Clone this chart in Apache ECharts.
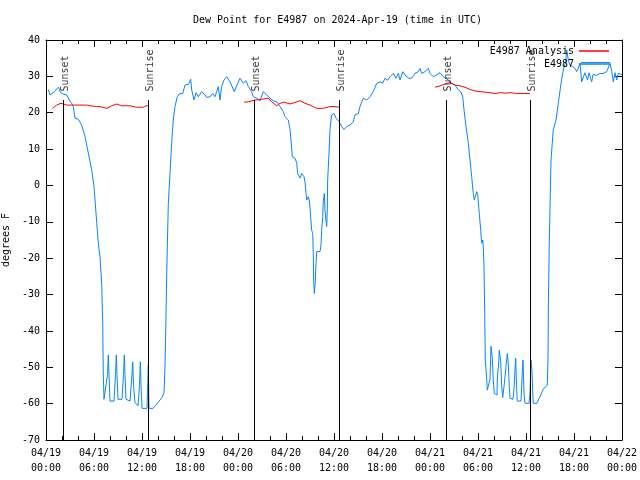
<!DOCTYPE html>
<html><head><meta charset="utf-8">
<script src="https://cdn.jsdelivr.net/npm/echarts@6/dist/echarts.min.js"></script>
<style>html,body{margin:0;padding:0;background:#fff}#c{width:640px;height:480px}</style>
</head><body><div id="c"></div>
<script>
// x values: hours since 2024-04-19 00:00 UTC
const xTickLabels = ['04/19\n00:00','04/19\n06:00','04/19\n12:00','04/19\n18:00','04/20\n00:00','04/20\n06:00','04/20\n12:00','04/20\n18:00','04/21\n00:00','04/21\n06:00','04/21\n12:00','04/21\n18:00','04/22\n00:00'];

const obsHours = [0.29,0.5,0.91,1.125,1.54,1.84,2.16,2.59,2.91,3.21,3.41,3.63,4.04,4.46,4.88,5.29,5.71,6.0,6.25,6.54,6.75,6.96,7.09,7.16,7.25,7.5,7.69,7.79,7.875,8.0,8.5,8.69,8.79,8.875,9.0,9.5,9.69,9.79,9.875,10.0,10.5,10.75,10.84,10.94,11.125,11.5,11.69,11.79,11.875,12.0,12.625,12.79,12.875,13.375,13.625,14.0,14.25,14.5,14.75,14.875,15.0,15.09,15.29,15.5,15.71,15.91,16.125,16.41,16.66,17.09,17.375,17.59,17.81,18.09,18.21,18.5,18.75,19.04,19.46,19.875,20.09,20.5,20.84,21.125,21.54,21.75,21.96,22.25,22.59,23.0,23.54,23.96,24.25,24.66,25.0,25.29,25.71,25.91,26.34,26.75,27.16,27.59,28.0,28.41,28.84,29.25,29.66,29.875,30.29,30.5,30.625,30.79,31.125,31.34,31.46,31.75,31.96,32.25,32.375,32.5,32.59,32.79,32.91,33.0,33.09,33.21,33.34,33.41,33.46,33.54,33.66,33.75,33.84,34.25,34.375,34.46,34.59,34.66,34.79,34.875,34.96,35.09,35.16,35.21,35.375,35.5,35.625,35.71,36.0,36.25,36.41,36.66,36.96,37.25,37.59,38.0,38.41,38.625,39.04,39.25,39.66,40.09,40.5,40.91,41.34,41.75,42.09,42.375,42.69,43.0,43.41,43.75,44.04,44.25,44.59,44.875,45.29,45.71,46.125,46.54,46.75,46.96,47.375,47.79,48.0,48.41,48.84,49.25,49.66,49.875,50.29,50.71,51.125,51.54,51.84,52.09,52.25,52.5,52.79,53.0,53.21,53.41,53.54,53.75,53.84,53.96,54.16,54.34,54.46,54.59,54.66,54.75,54.84,54.91,54.94,55.09,55.16,55.375,55.5,55.625,55.79,55.91,56.04,56.375,56.41,56.59,56.66,56.84,56.96,57.09,57.25,57.29,57.46,57.59,57.66,57.79,57.91,58.0,58.375,58.5,58.625,58.71,58.84,58.91,59.375,59.54,59.625,59.75,59.875,60.375,60.5,60.625,60.75,60.84,60.91,61.375,61.54,61.75,61.96,62.16,62.375,62.66,62.75,62.8,62.91,63.125,63.41,63.75,64.04,64.375,64.66,64.96,65.09,65.29,65.5,65.84,66.125,66.34,66.54,66.75,66.96,67.16,67.375,67.69,67.875,68.21,68.375,68.84,69.25,69.625,70.09,70.5,70.71,70.91,71.125,71.34,71.54,71.75,72.0];
const obsDew = [26.4,24.9,25.5,25.0,27.0,25.5,25.1,24.9,23.5,22.6,21.7,18.5,18.2,16.6,13.4,8.9,4.3,-0.3,-7.6,-15.9,-19.6,-26.9,-37.9,-51.6,-58.8,-58.8,-52,-46.6,-52,-59.3,-59.3,-52,-46.6,-52,-58.8,-58.8,-52,-46.6,-52,-58.8,-59.3,-52,-48.5,-55,-59.7,-60.6,-55,-48.5,-55,-61.3,-61.3,-49.4,-61.3,-61.3,-60.6,-59.7,-59,-58.3,-57.0,-49.4,-36.1,-24.2,-4.9,3.3,11.6,18,21.7,24.4,25.2,25.3,27.6,28.1,27.8,29.2,26.3,23.5,25.5,24.4,25.8,24.9,24.2,24.4,25.3,24.4,27.2,23.5,27.2,29.0,29.9,28.5,25.8,28.1,29.5,28.1,28.8,27.2,25.8,24.4,24.0,23.3,25.8,24.9,24.0,23.3,23.0,21.7,20.3,18.9,18.0,15.3,12.5,7.9,7.5,6.1,3.3,2.0,3.3,2.4,1.0,-2.2,-4.0,-3.1,-4.0,-6.3,-9.0,-12.3,-13.2,-18.7,-26,-29.7,-26.4,-21.4,-18.2,-18.2,-16.4,-12.3,-8.6,-4.5,-2.2,-6.8,-9.0,-11.3,-6.8,1.5,8.9,15.3,18,19.4,19.8,18.5,18.9,17.5,16.2,15.4,16.2,16.6,17.5,19.4,19.8,21.7,24.0,23.5,24.4,25.8,28.1,28.5,28.1,29.5,28.9,29.9,30.8,29.5,30.8,29.0,31.3,30.4,29.5,29.5,30.8,31.3,32.2,30.8,31.3,32.2,30.8,29.9,30.4,31.0,29.9,29.5,29.0,28.1,27.6,26.3,25.8,24.4,20.8,16.2,11.6,7.0,2.4,-2.2,-4.0,-4.5,-1.7,-2.5,-7.7,-12.3,-15.9,-15.0,-16.8,-22.3,-35.2,-48,-47.8,-53.3,-56.3,-56.3,-53.3,-44.2,-47.5,-53.5,-57.2,-57.6,-53.5,-48.5,-45.3,-48.5,-55.3,-58.3,-58.3,-54.5,-50.75,-47.8,-46.2,-49.0,-55.3,-58.5,-58.8,-56.0,-50.6,-47.5,-56.3,-59.3,-59.3,-51.2,-48,-57.2,-59.9,-59.9,-57.1,-48,-51.2,-57.1,-59.9,-59.9,-59.0,-58.1,-57.0,-56.0,-55.5,-54.9,-47.5,-32.4,-15.9,7.0,15.3,18.0,22.6,28.1,31.75,34.0,37.25,34.5,33.1,32.7,32.2,31.3,32.2,33.6,28.5,28.5,31,29,31,28.5,30.5,30.3,30.8,30.8,31.3,33.6,31.5,28.5,31,29.0,30.8,30.8,30.5];
// second, overlapping stretch of observations (flat top)
const obsHours2 = [66.875, 70.5];
const obsDew2 = [33.8, 33.8];

// analysis (null breaks between days)
const anaHours = [0.79,1.34,1.875,2.59,3.41,4.25,5.09,5.5,6.34,6.96,7.59,8.21,8.84,9.46,10.5,11.34,12.16,12.5,12.79,18,24.75,25.29,26.125,26.96,27.79,28.21,28.84,29.25,29.79,30.5,31.125,31.75,32.375,33.0,33.84,34.66,35.5,36.125,36.66,42,48.625,49.25,49.875,50.5,51.125,51.75,52.375,53.0,53.625,54.25,55.09,56.125,56.75,57.375,58.0,58.84,59.66,60.5];
const anaDew = [21.2,22.1,22.6,22.1,22.1,22.1,22.1,21.9,21.7,21.6,21.2,21.9,22.4,21.9,21.9,21.5,21.5,21.9,21.9,null,22.9,23.0,23.5,23.7,24.0,23.0,21.9,22.6,22.9,22.4,22.8,23.3,22.6,22.1,21.2,21.2,21.7,21.7,21.5,null,27.0,27.4,27.9,28.3,27.6,27.4,27.0,26.4,26.0,25.8,25.6,25.3,25.5,25.4,25.5,25.3,25.3,25.3];

const eventNames = ['Sunset','Sunrise','Sunset','Sunrise','Sunset','Sunrise'];
const eventHours = [2.125, 12.75, 26.0, 36.625, 50.0, 60.5];
const eventLineTop = 23.5;
const eventLabelBase = 25.7;

const FONT = 'DejaVu Sans Mono';
const zip = (a,b) => a.map((v,i)=>[v,b[i]]);

const chart = echarts.init(document.getElementById('c'));
const axisCommon = {
  type:'value', min:0, max:72, interval:6,
  axisLine:{show:true, onZero:false, lineStyle:{color:'#000', width:1}},
  axisTick:{show:true, inside:true, length:7, lineStyle:{color:'#000'}},
  minorTick:{show:true, splitNumber:3, length:4, lineStyle:{color:'#000'}},
  splitLine:{show:false}
};
const yCommon = {
  type:'value', min:-70, max:40, interval:10,
  axisLine:{show:true, onZero:false, lineStyle:{color:'#000', width:1}},
  axisTick:{show:true, inside:true, length:7, lineStyle:{color:'#000'}},
  splitLine:{show:false}
};
chart.setOption({
  animation:false,
  backgroundColor:'#fff',
  textStyle:{fontFamily:FONT},
  title:{text:'Dew Point for E4987 on 2024-Apr-19 (time in UTC)', left:188, top:10,
    textStyle:{fontFamily:FONT, fontSize:10, fontWeight:'normal', color:'#000'}},
  grid:{left:46, right:18, top:40, bottom:40, containLabel:false, outerBoundsMode:'none'},
  legend:[
    {data:['E4987 Analysis'], right:26, top:41, align:'right', icon:'rect', itemWidth:30, itemHeight:1.5, itemGap:6,
     textStyle:{fontFamily:FONT, fontSize:10, color:'#000'}},
    {data:['E4987'], right:26, top:54, align:'right', icon:'rect', itemWidth:30, itemHeight:1.5, itemGap:6,
     textStyle:{fontFamily:FONT, fontSize:10, color:'#000'}}
  ],
  xAxis:[
    Object.assign({}, axisCommon, {position:'bottom',
      axisLabel:{show:true, margin:6, color:'#000', fontFamily:FONT, fontSize:10, lineHeight:15,
        formatter:v => xTickLabels[Math.round(v/6)]}}),
    Object.assign({}, axisCommon, {position:'top', axisLabel:{show:false}})
  ],
  yAxis:[
    Object.assign({}, yCommon, {position:'left', name:'degrees F', nameLocation:'middle', nameGap:32, nameRotate:90,
      nameTextStyle:{fontFamily:FONT, fontSize:10, color:'#000'},
      axisLabel:{show:true, margin:6, color:'#000', fontFamily:FONT, fontSize:10}}),
    Object.assign({}, yCommon, {position:'right', axisLabel:{show:false}})
  ],
  series:[
    {name:'E4987 Analysis', type:'line', data:zip(anaHours, anaDew), showSymbol:false, symbol:'none',
     connectNulls:false, lineStyle:{color:'#ff0000', width:1}, itemStyle:{color:'#ff0000'}, z:3},
    {name:'E4987', type:'line', data:zip(obsHours, obsDew), showSymbol:false, symbol:'none',
     lineStyle:{color:'#0a84ff', width:1}, itemStyle:{color:'#0a84ff'}, z:2},
    {name:'E4987', type:'line', data:zip(obsHours2, obsDew2), showSymbol:false, symbol:'none',
     lineStyle:{color:'#0a84ff', width:1}, itemStyle:{color:'#0a84ff'}, z:2},
    {name:'events', type:'scatter', symbolSize:1, itemStyle:{color:'rgba(0,0,0,0)'}, z:5,
     data:eventHours.map((h,i)=>({value:[h, eventLabelBase], name:eventNames[i]})),
     label:{show:true, formatter:p=>p.name, position:[0,0], rotate:90, align:'left', verticalAlign:'middle',
       fontFamily:FONT, fontSize:10, color:'#000', offset:[0,3]},
     markLine:{silent:true, symbol:['none','none'], label:{show:false},
       lineStyle:{color:'#000', width:1, type:'solid'},
       data:eventHours.map(h=>[{coord:[h, eventLineTop]},{coord:[h, -70]}])}
    }
  ]
});
</script></body></html>
